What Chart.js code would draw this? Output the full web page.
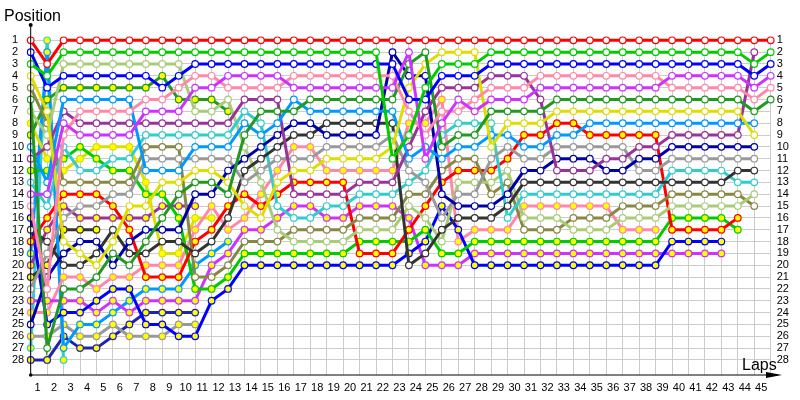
<!DOCTYPE html>
<html><head><meta charset="utf-8">
<script src="https://cdn.jsdelivr.net/npm/chart.js@4.4.1/dist/chart.umd.min.js"></script>
<style>html,body{margin:0;padding:0;background:#fff}</style>
</head><body>
<canvas id="c" width="800" height="400"></canvas>
<script>
// Drivers: line colour + marker fill (white / yellow)
const driverCodes = ['R','G','B','V','P','DG','Yl','LB','PU','N','GR','BK','C','LO','OL',
                     'RY','GY','BY','VY','PY','DGY','YlY','LBY','PUY','BKY','GRY','CY','NY'];
const lineColors  = ['#ff0000','#00cc00','#0000ff','#cc33ff','#ff88aa','#229922','#dddd00','#0099ff','#993399','#0000aa','#999999','#333333','#33cccc','#aacc77','#888844',
                     '#ff0000','#00cc00','#0000ff','#cc33ff','#ff88aa','#229922','#dddd00','#0099ff','#993399','#333333','#999999','#33cccc','#2222aa'];
const markerFill  = ['#ffffff','#ffffff','#ffffff','#ffffff','#ffffff','#ffffff','#ffffff','#ffffff','#ffffff','#ffffff','#ffffff','#ffffff','#ffffff','#ffffff','#ffffff',
                     '#ffff00','#ffff00','#ffff00','#ffff00','#ffff00','#ffff00','#ffff00','#ffff00','#ffff00','#ffff00','#ffff00','#ffff00','#ffff00'];
// Running order at each lap (index 0 = grid), first = position 1
const runningOrder = [
"R B G Yl OL DG LO YlY DGY LB PU GY C V P BY BK RY LBY PUY BKY GR VY PY N GRY CY NY",
"CY LBY R G B DGY Yl OL LO PU YlY GY LB V C RY PUY BK GR BKY N P VY PY BY GRY DG NY",
"R G LO B DGY LB PU V P C GY YlY OL RY PUY GR BKY Yl N BK PY DG VY BY GRY NY LBY CY",
"R G LO B DGY LB P PU V GY YlY C OL RY GR PUY BKY N Yl BK PY DG VY BY LBY GRY NY",
"R G LO B DGY LB P PU V YlY GY C OL RY GR PUY BKY N BK Yl DG PY BY VY LBY GRY NY",
"R G LO B DGY LB P PU V YlY C GY OL GR RY PUY BK Yl DG N PY BY VY LBY GRY NY",
"R G LO B DGY LB P PU V YlY C GY OL GR Yl PUY RY N BK DG PY BY LBY VY NY GRY",
"R G LO B DGY P V PU C OL GR LB YlY GY Yl PUY N DG BK PY RY LBY VY NY BY GRY",
"R G LO DGY B P V PU C OL GR LB Yl GY PUY DG N BK YlY PY RY LBY VY NY BY GRY",
"R G LO B P DGY V PU C OL GR LB Yl DG PUY GY N BK YlY PY RY LBY VY NY GRY BY",
"R G B P V DGY LO PU C LB GR Yl DG N PUY YlY PY RY BK LBY OL GY VY NY GRY BY",
"R G B P V DGY LO PU C LB GR Yl DG N PY YlY RY BK LBY VY OL GY BY",
"R G B V P LO DGY PU C LB GR N Yl DG RY BK PY LBY VY OL GY BY",
"R G B V P PU C LB DG LO N BK GR RY Yl PY VY OL GY BY",
"R G B V P PU DG C LB N BK GR LO PY RY Yl VY OL GY BY",
"R G B V P PU DG LB N BK GR PY Yl RY C VY LO OL GY BY",
"R G B P V LB DG N BK PY GR Yl RY PU VY C OL LO GY BY",
"R G B P V DG LB N BK PY GR Yl RY PU VY C OL LO GY BY",
"R G B P V DG LB BK N GR Yl PY RY PU C VY OL LO GY BY",
"R G B P V DG LB BK N GR Yl PY RY PU C VY OL LO GY BY",
"R G B P V DG LB BK N GR Yl PY PU C VY OL LO GY RY BY",
"R G B P V DG LB BK N GR Yl PY PU C VY OL LO GY RY BY",
"R N B P V DG LB BK GR Yl G PY PU C VY OL LO GY RY BY",
"R V DG N Yl B P PY G PU LB GR C OL LO VY RY GY BY BK",
"R DG Yl N G B PU PY P LB V C GR OL RY LO GY BY BK VY",
"R Yl G B PU PY P V C DG LB OL RY N BY GR BK LO GY VY",
"R Yl G B PU V P C DG LB OL RY LO GR N BK BY PY GY VY",
"R Yl G B PU P V C DG LB OL RY LO GR N BK PY GY VY BY",
"R G B PU P V DG C LB Yl GR RY LO OL N BK PY GY VY BY",
"R G B PU P V DG Yl LB GR RY LO OL N BK C PY GY VY BY",
"R G B PU P V DG Yl RY LB GR N BK C PY LO OL GY VY BY",
"R G B P V PU DG Yl RY LB GR N BK C PY LO OL GY VY BY",
"R G B P V DG Yl RY LB GR N PU BK C PY LO OL GY VY BY",
"R G B P V DG Yl RY LB GR N PU BK C PY OL LO GY VY BY",
"R G B P V DG Yl LB RY GR N PU BK C PY OL LO GY VY BY",
"R G B P V DG Yl LB RY GR PU N BK C PY OL LO GY VY BY",
"R G B P V DG Yl LB RY GR PU N BK C OL LO PY GY VY BY",
"R G B P V DG Yl LB RY PU N GR BK C OL LO PY GY VY BY",
"R G B P V DG Yl LB RY PU N GR BK C OL LO PY GY VY BY",
"R G B V P DG Yl LB PU N GR C BK OL LO GY RY BY VY",
"R G B V P DG Yl LB PU N GR C BK OL LO GY RY BY VY",
"R G B V P DG Yl LB PU N GR C BK OL LO GY RY BY VY",
"R G B V P DG Yl LB PU N GR C BK OL LO GY RY BY VY",
"R G B V P DG Yl LB PU N GR BK C OL LO RY GY",
"R PU G B V P DG LB Yl N GR BK C LO OL",
"R G B V P DG"
];
const positionCount = 28;
const lapCount = 45;

const FONT = 'Liberation Sans, Arial, sans-serif';

const datasets = driverCodes.map((code, i) => {
  const pts = [];
  runningOrder.forEach((s, lap) => {
    const idx = s.split(' ').indexOf(code);
    if (idx >= 0) pts.push({x: lap, y: idx + 1});
  });
  return {
    label: code, data: pts,
    borderColor: lineColors[i], backgroundColor: markerFill[i],
    pointBackgroundColor: markerFill[i], pointBorderColor: lineColors[i],
    borderWidth: 3, pointRadius: 3.3, pointBorderWidth: 1.2,
    tension: 0, clip: false, order: i
  };
});

const axesDeco = {
  id: 'axesDeco',
  afterDraw(chart) {
    const {ctx, chartArea: a} = chart;
    ctx.save();
    ctx.strokeStyle = '#000'; ctx.fillStyle = '#000'; ctx.lineWidth = 1;
    ctx.beginPath();
    ctx.moveTo(a.left, 25); ctx.lineTo(a.left, a.bottom);
    ctx.lineTo(778, a.bottom);
    ctx.stroke();
    ctx.beginPath(); ctx.moveTo(766, a.bottom - 3); ctx.lineTo(782, a.bottom); ctx.lineTo(766, a.bottom + 3); ctx.closePath(); ctx.fill();
    ctx.beginPath(); ctx.arc(a.left, 25, 2, 0, Math.PI * 2); ctx.fill();
    ctx.beginPath(); ctx.arc(a.left, a.bottom, 1.8, 0, Math.PI * 2); ctx.fill();
    ctx.font = '16px ' + FONT; ctx.textBaseline = 'alphabetic'; ctx.textAlign = 'left';
    ctx.fillText('Position', 4, 21);
    ctx.fillText('Laps', 742, 370);
    ctx.restore();
  }
};

new Chart(document.getElementById('c'), {
  type: 'line',
  data: {datasets},
  options: {
    responsive: false, animation: false, devicePixelRatio: 1,
    layout: {padding: {left: 12, top: 40.3, right: 0, bottom: 0}, autoPadding: false},
    plugins: {legend: {display: false}, tooltip: {enabled: false}},
    scales: {
      x: {
        type: 'linear', min: 0, max: lapCount, position: 'bottom',
        afterFit(s) { s.height = 25; },
        border: {display: false},
        grid: {color: '#cccccc', drawTicks: false},
        ticks: {stepSize: 1, autoSkip: false, maxRotation: 0, labelOffset: -9.5, padding: 6,
                color: '#000', font: {family: FONT, size: 11},
                callback: v => (v >= 1 && v <= lapCount && Number.isInteger(v)) ? String(v) : ''}
      },
      y: {
        type: 'linear', reverse: true, min: 1, max: 29.27, position: 'left',
        afterFit(s) { s.width = 18.7; },
        border: {display: false},
        grid: {color: c => (c.tick && c.tick.value <= positionCount && Number.isInteger(c.tick.value)) ? '#cccccc' : 'rgba(0,0,0,0)', drawTicks: false},
        ticks: {stepSize: 1, autoSkip: false, crossAlign: 'far', padding: 0, color: '#000', font: {family: FONT, size: 11},
                callback: v => (v >= 1 && v <= positionCount && Number.isInteger(v)) ? String(v) : ''}
      },
      y2: {
        type: 'linear', reverse: true, min: 1, max: 29.27, position: 'right',
        afterFit(s) { s.width = 29.3; },
        border: {display: false},
        grid: {display: false, drawTicks: false},
        ticks: {stepSize: 1, autoSkip: false, padding: 6, color: '#000', font: {family: FONT, size: 11},
                callback: v => (v >= 1 && v <= positionCount && Number.isInteger(v)) ? String(v) : ''}
      }
    }
  },
  plugins: [axesDeco]
});
</script>
</body></html>
